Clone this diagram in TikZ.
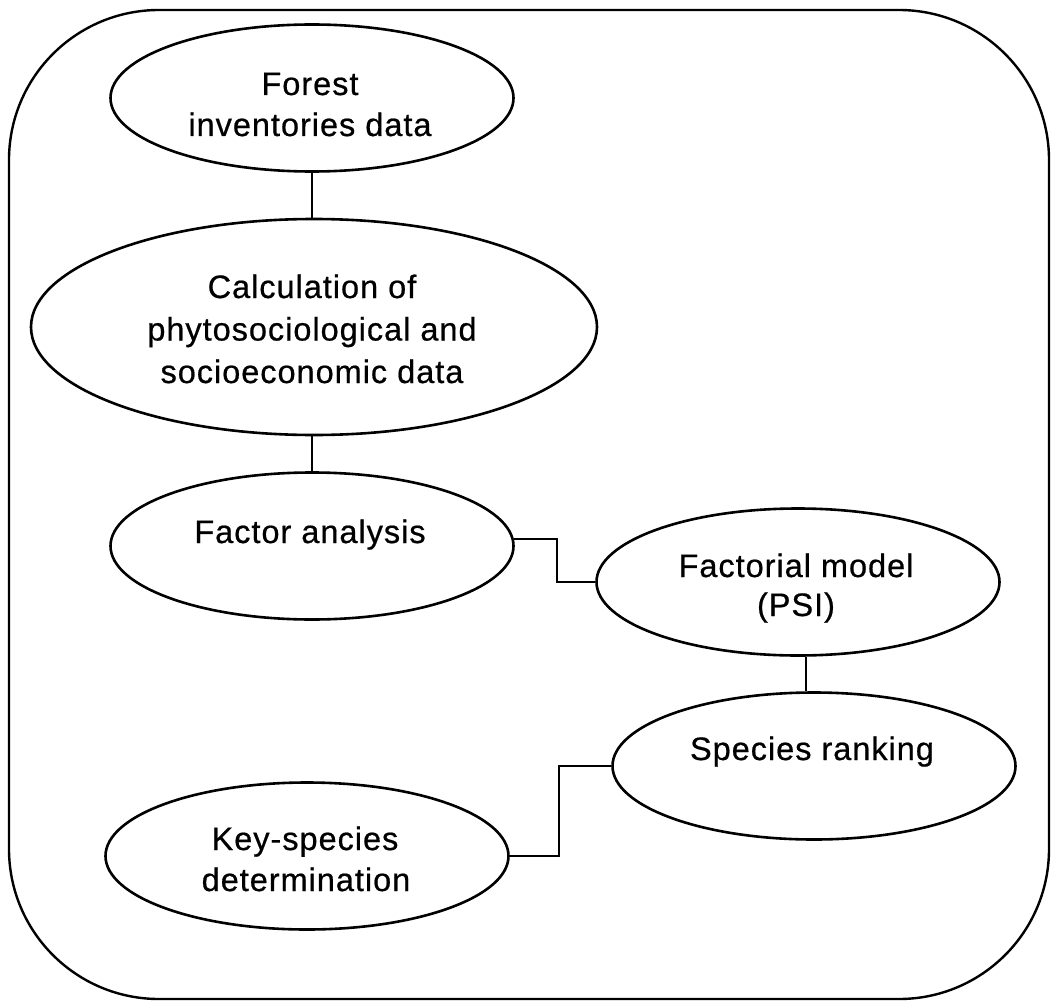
\documentclass[tikz,border=0pt]{standalone}
\usepackage{fontspec}
\newfontfamily\diagfont[LetterSpace=3.0,FakeBold=0.6]{Liberation Sans}
\usetikzlibrary{shapes.geometric}
\begin{document}
\begin{tikzpicture}[x=1pt,y=-1pt,
  elli/.style={draw, ellipse, line width=2.6pt, inner sep=0pt, minimum width=403pt, minimum height=147pt},
  lbl/.style={font=\diagfont\fontsize{32.5}{40}\selectfont, anchor=base, inner sep=0pt},
  wire/.style={line width=2.5pt},
  frame/.style={line width=2.4pt, rounded corners=150pt}]
\useasboundingbox (0,0) rectangle (1051,1003);
\draw[frame] (9,10) rectangle (1049,999);

% ellipses
\node[elli] (e1) at (312,98) {};
\node[elli, minimum width=566pt, minimum height=216pt] (e2) at (314,327) {};
\node[elli] (e3) at (312,546) {};
\node[elli] (e4) at (798,582) {};
\node[elli] (e5) at (814,766) {};
\node[elli] (e6) at (307,856) {};

% texts
\node[lbl] (t1a) at (310,95) {Forest};
\node[lbl] (t1b) at (310,136) {inventories data};
\node[lbl] (t2a) at (312,298) {Calculation of};
\node[lbl] (t2b) at (312,340.5) {phytosociological and};
\node[lbl] (t2c) at (312,383) {socioeconomic data};
\node[lbl] (t3) at (310,543) {Factor analysis};
\node[lbl] (t4a) at (796,577) {Factorial model};
\node[lbl] (t4b) at (796,616) {(PSI)};
\node[lbl] (t5) at (812,760) {Species ranking};
\node[lbl] (t6a) at (305,850) {Key-species};
\node[lbl] (t6b) at (306,891) {determination};

% connectors
\coordinate (c45) at (806,0);
\draw[wire] (e1.south) -- (e1.south |- e2.north);
\draw[wire] (e3.north |- e2.south) -- (e3.north);
\draw[wire] (e3.2) -- ++(43,0) |- (e4.west);
\draw[wire] (e4.south -| c45) -- (e5.north -| c45);
\draw[wire] (e5.west) -- ++(-52,0) |- (e6.east);
\end{tikzpicture}
\end{document}
